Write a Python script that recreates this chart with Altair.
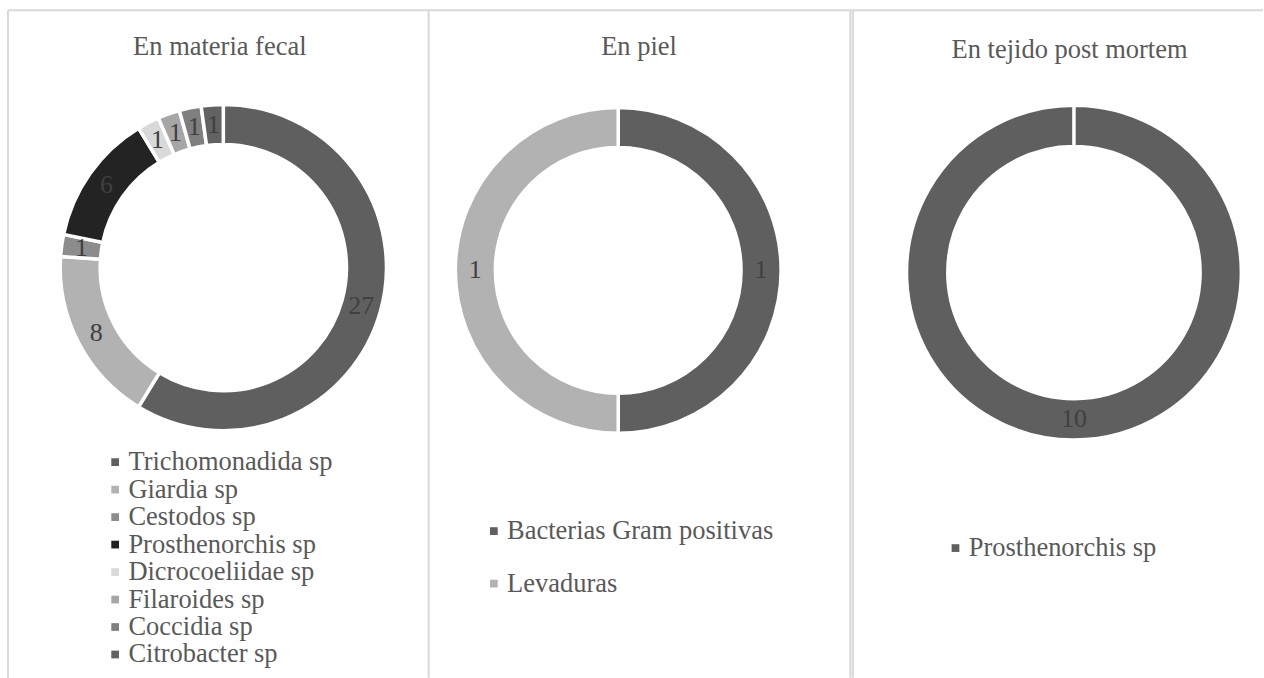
import altair as alt
import pandas as pd

SERIF = "Liberation Serif"

# Hallazgos en materia fecal
fecal_taxa = ["Trichomonadida sp", "Giardia sp", "Cestodos sp", "Prosthenorchis sp",
              "Dicrocoeliidae sp", "Filaroides sp", "Coccidia sp", "Citrobacter sp"]
fecal_counts = [27, 8, 1, 6, 1, 1, 1, 1]
fecal_colors = ["#5f5f5f", "#b2b2b2", "#8c8c8c", "#232323",
                "#d9d9d9", "#a6a6a6", "#7f7f7f", "#626262"]

# Hallazgos en piel
skin_taxa = ["Bacterias Gram positivas", "Levaduras"]
skin_counts = [1, 1]
skin_colors = ["#5f5f5f", "#b2b2b2"]

# Hallazgos en tejido post mortem
tissue_taxa = ["Prosthenorchis sp"]
tissue_counts = [10]
tissue_colors = ["#5f5f5f"]

panel_titles = ["En materia fecal", "En piel", "En tejido post mortem"]

BORDER = "#d9d9d9"
H = 678
one_row = pd.DataFrame({"k": [0]})


def line(x, x2, y, y2, width=2):
    return alt.Chart(one_row).mark_rule(color=BORDER, strokeWidth=width).encode(
        x=alt.value(x), x2=alt.value(x2), y=alt.value(y), y2=alt.value(y2)
    )


def donut_panel(title, taxa, counts, colors, width, cx, cy, r_out, r_in,
                tx, ty, lx, ly, row_pad, borders):
    df = pd.DataFrame({"taxon": taxa, "n": counts, "idx": list(range(len(taxa)))})
    sw = 3.5
    base = alt.Chart(df).encode(
        theta=alt.Theta("n:Q", stack=True, scale=alt.Scale(range=[0, 6.2831])),
        order=alt.Order("idx:Q"),
        x=alt.value(cx),
        y=alt.value(cy),
    )
    ring = base.mark_arc(
        innerRadius=r_in - sw / 2, outerRadius=r_out + sw / 2,
        stroke="white", strokeWidth=sw,
    ).encode(
        color=alt.Color(
            "taxon:N",
            scale=alt.Scale(domain=taxa, range=colors),
            legend=alt.Legend(
                title=None, orient="none", legendX=lx, legendY=ly,
                symbolType="square", symbolSize=60, symbolStrokeWidth=0,
                labelFont=SERIF, labelFontSize=26.5, labelColor="#595959",
                labelOffset=0, labelLimit=500, rowPadding=row_pad, padding=0,
            ),
        )
    )
    labels = base.mark_text(
        radius=(r_in + r_out) / 2, font=SERIF, fontSize=26,
        color="#404040", baseline="middle", align="center",
    ).encode(text="n:Q")
    heading = alt.Chart(pd.DataFrame({"t": [title]})).mark_text(
        font=SERIF, fontSize=26.5, color="#595959", align="center", baseline="alphabetic"
    ).encode(text="t:N", x=alt.value(tx), y=alt.value(ty))
    return alt.layer(*borders, ring, labels, heading).properties(width=width, height=H)


p1 = donut_panel(
    panel_titles[0], fecal_taxa, fecal_counts, fecal_colors,
    width=429, cx=223.5, cy=267.5, r_out=161.5, r_in=125,
    tx=220, ty=55, lx=102, ly=449, row_pad=0.5,
    borders=[line(8, 429, 10, 10), line(8, 8, 10, H)],
)
p2 = donut_panel(
    panel_titles[1], skin_taxa, skin_counts, skin_colors,
    width=423, cx=189.7, cy=270.3, r_out=161.3, r_in=124.7,
    tx=210.5, ty=55, lx=52, ly=518, row_pad=25.5,
    borders=[line(0, 423, 10, 10), line(0, 0, 10, H), line(422, 422, 10, H)],
)
p3 = donut_panel(
    panel_titles[2], tissue_taxa, tissue_counts, tissue_colors,
    width=412, cx=222.8, cy=272.5, r_out=165.8, r_in=128,
    tx=218.4, ty=57.7, lx=91, ly=535, row_pad=10,
    borders=[line(0, 412, 10, 10), line(1.5, 1.5, 10, H)],
)

chart = (
    alt.hconcat(p1, p2, p3, spacing=0, bounds="flush")
    .resolve_scale(color="independent", theta="independent")
    .configure_view(strokeWidth=0)
    .properties(padding=0, background="white")
)

chart.save("out.html", embed_options={"renderer": "svg", "actions": False})
